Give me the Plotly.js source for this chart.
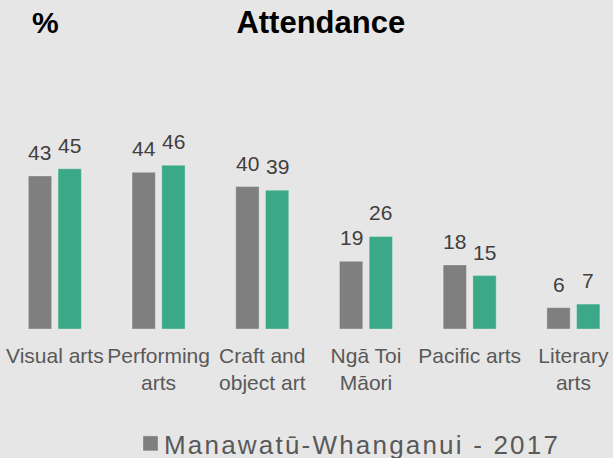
<!DOCTYPE html>
<html>
<head>
<meta charset="utf-8">
<script src="https://cdn.plot.ly/plotly-3.0.1.min.js"></script>
<style>
  html, body { margin: 0; padding: 0; background: #E7E6E6; }
  #chart { width: 613px; height: 458px; }
  .legendtext { letter-spacing: 2.2px; }
</style>
</head>
<body>
<div id="chart"></div>
<script>
const categories = ["Visual arts", "Performing<br>arts", "Craft and<br>object art", "Ngā Toi<br>Māori", "Pacific arts", "Literary<br>arts"];
const regionValues = [43, 44, 40, 19, 18, 6];
const nzValues = [45, 46, 39, 26, 15, 7];
const regionName = "Manawatū-Whanganui - 2017";
const nzName = "New Zealand - 2017";

const W = 613, H = 458;
const margin = {l: 3, r: 0, t: 60, b: 129};
const xRange = [-0.5, 5.382];
const yRange = [0, 75.56];
const bargap = 0.427;
const pxPerCat = (W - margin.l - margin.r) / (xRange[1] - xRange[0]);
const slotPx = (1 - bargap) / 2 * pxPerCat;

const font = "Liberation Sans, Arial, sans-serif";
const idx = categories.map((c, i) => i);

const traces = [
  {
    type: "bar", name: regionName, x: idx, y: regionValues,
    marker: {color: "#7F7F7F", line: {color: "rgba(255,255,255,0.3)", width: 1}},
    showlegend: true, hoverinfo: "skip"
  },
  {
    type: "bar", name: nzName, x: idx, y: nzValues,
    marker: {color: "#3BA988", line: {color: "rgba(255,255,255,0.3)", width: 1}},
    showlegend: false, hoverinfo: "skip"
  }
];

const annotations = [];
[[regionValues, -1], [nzValues, 1]].forEach(([vals, side]) => {
  vals.forEach((v, i) => {
    annotations.push({
      x: i, y: v, xref: "x", yref: "y", text: String(v), showarrow: false,
      xanchor: "center", yanchor: "bottom", xshift: side * slotPx / 2, yshift: 10,
      font: {family: font, size: 21, color: "#404040"}
    });
  });
});
annotations.push({
  x: (45.3 - margin.l) / (W - margin.l - margin.r), y: 1.07, xref: "paper", yref: "paper",
  text: "<b>%</b>", showarrow: false, xanchor: "center", yanchor: "bottom",
  font: {family: font, size: 30, color: "#000000"}
});

const layout = {
  width: W, height: H,
  margin: margin,
  paper_bgcolor: "#E7E6E6", plot_bgcolor: "#E7E6E6",
  barmode: "group", bargap: bargap, bargroupgap: 0.215,
  title: {
    text: "<b>Attendance</b>", xref: "container", yref: "container",
    x: 320.8 / W, xanchor: "center", y: 1 - 11 / H, yanchor: "top",
    font: {family: font, size: 31, color: "#000000"}
  },
  xaxis: {
    type: "linear", range: xRange, tickmode: "array", tickvals: idx, ticktext: categories,
    showgrid: false, zeroline: false, showline: false, ticks: "",
    ticklabelstandoff: 12,
    tickfont: {family: font, size: 21, color: "#595959"}
  },
  yaxis: {
    range: yRange, showgrid: false, zeroline: false, showline: false,
    showticklabels: false, ticks: ""
  },
  showlegend: true,
  legend: {
    orientation: "h", xref: "container", yref: "container",
    x: 124 / W, xanchor: "left", y: 0, yanchor: "bottom",
    bgcolor: "rgba(0,0,0,0)", borderwidth: 0,
    font: {family: font, size: 26, color: "#595959"}
  },
  annotations: annotations
};

Plotly.newPlot("chart", traces, layout, {displayModeBar: false, staticPlot: true}).then(() => {
  document.querySelectorAll(".legendpoints path").forEach(p => {
    p.setAttribute("d", "M14,7.5H-1V-7.5H14Z");
  });
  const lg = document.querySelector("g.legend");
  if (lg) {
    const m = /translate\(\s*([-\d.]+)[ ,]+([-\d.]+)\s*\)/.exec(lg.getAttribute("transform") || "");
    if (m) lg.setAttribute("transform", "translate(" + m[1] + "," + (parseFloat(m[2]) + 9) + ")");
  }
});
</script>
</body>
</html>
